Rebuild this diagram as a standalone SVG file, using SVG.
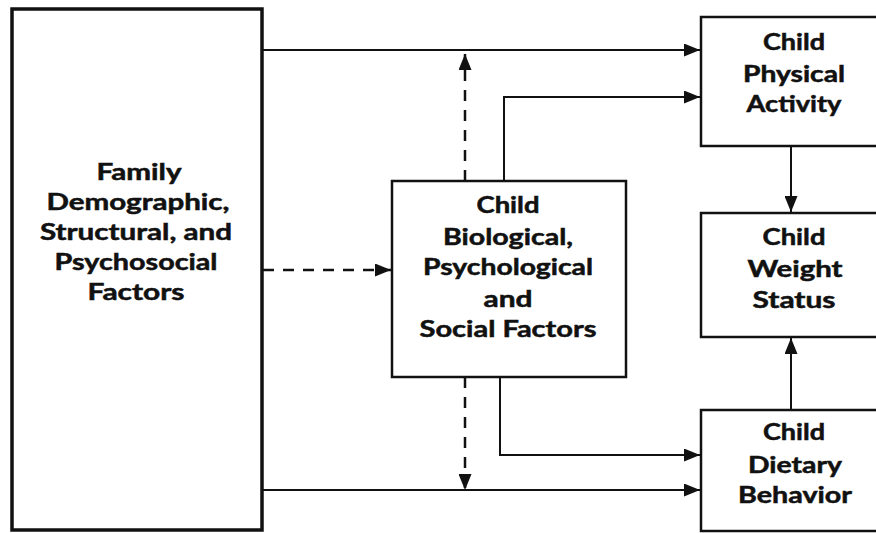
<svg xmlns="http://www.w3.org/2000/svg" width="876" height="533" viewBox="0 0 876 533">
<defs>
<style>
.box{fill:#fff;stroke:#111;stroke-width:2.5}
.big{stroke-width:3.5}
.t{font-family:Lato,"Open Sans","Liberation Sans",sans-serif;font-weight:bold;font-size:22px;fill:#111;stroke:#111;stroke-width:0.5;text-anchor:middle}
.c{fill:none;stroke:#111;stroke-width:2}
.d{stroke-dasharray:11 9;stroke-width:2.5}
</style>
<marker id="ah" viewBox="0 0 16 13" refX="16" refY="6.5" markerWidth="16" markerHeight="13" markerUnits="userSpaceOnUse" orient="auto">
<path d="M0,0 L16,6.5 L0,13 z" fill="#111"/>
</marker>
</defs>
<rect width="876" height="533" fill="#fff"/>
<g id="connectors">
<path class="c" d="M262,50 H700" marker-end="url(#ah)"/>
<path class="c" d="M504,181 V97 H700" marker-end="url(#ah)"/>
<path class="c d" d="M465,181 V54" marker-end="url(#ah)"/>
<path class="c d" d="M263,270 H391" marker-end="url(#ah)"/>
<path class="c d" d="M465,377 V490" marker-end="url(#ah)"/>
<path class="c" d="M500,377 V455 H700" marker-end="url(#ah)"/>
<path class="c" d="M262,490 H700" marker-end="url(#ah)"/>
<path class="c" d="M791,147 V212" marker-end="url(#ah)"/>
<path class="c" d="M791,410 V338" marker-end="url(#ah)"/>
</g>
<g id="family">
<rect class="box big" x="12" y="9" width="250" height="521"/>
<text class="t"><tspan x="139" y="180" textLength="85" lengthAdjust="spacingAndGlyphs">Family</tspan><tspan x="138" y="210" textLength="183" lengthAdjust="spacingAndGlyphs">Demographic,</tspan><tspan x="136" y="240" textLength="192" lengthAdjust="spacingAndGlyphs">Structural, and</tspan><tspan x="136" y="270" textLength="163" lengthAdjust="spacingAndGlyphs">Psychosocial</tspan><tspan x="136" y="300" textLength="97" lengthAdjust="spacingAndGlyphs">Factors</tspan></text>
</g>
<g id="biological">
<rect class="box" x="392" y="181" width="234" height="196"/>
<text class="t"><tspan x="508" y="213" textLength="63" lengthAdjust="spacingAndGlyphs">Child</tspan><tspan x="508" y="245" textLength="130" lengthAdjust="spacingAndGlyphs">Biological,</tspan><tspan x="508" y="275" textLength="170" lengthAdjust="spacingAndGlyphs">Psychological</tspan><tspan x="508" y="307" textLength="49" lengthAdjust="spacingAndGlyphs">and</tspan><tspan x="508" y="337" textLength="177" lengthAdjust="spacingAndGlyphs">Social Factors</tspan></text>
</g>
<g id="physical">
<rect class="box" x="701" y="17" width="190" height="129"/>
<text class="t"><tspan x="794" y="50" textLength="62" lengthAdjust="spacingAndGlyphs">Child</tspan><tspan x="794" y="82" textLength="102" lengthAdjust="spacingAndGlyphs">Physical</tspan><tspan x="794" y="112" textLength="95" lengthAdjust="spacingAndGlyphs">Activity</tspan></text>
</g>
<g id="weight">
<rect class="box" x="701" y="213" width="190" height="124"/>
<text class="t"><tspan x="794" y="245" textLength="63" lengthAdjust="spacingAndGlyphs">Child</tspan><tspan x="795" y="277" textLength="95" lengthAdjust="spacingAndGlyphs">Weight</tspan><tspan x="794" y="308" textLength="83" lengthAdjust="spacingAndGlyphs">Status</tspan></text>
</g>
<g id="dietary">
<rect class="box" x="701" y="410" width="190" height="121"/>
<text class="t"><tspan x="794" y="440" textLength="62" lengthAdjust="spacingAndGlyphs">Child</tspan><tspan x="795" y="473" textLength="94" lengthAdjust="spacingAndGlyphs">Dietary</tspan><tspan x="795" y="503" textLength="114" lengthAdjust="spacingAndGlyphs">Behavior</tspan></text>
</g>
</svg>
